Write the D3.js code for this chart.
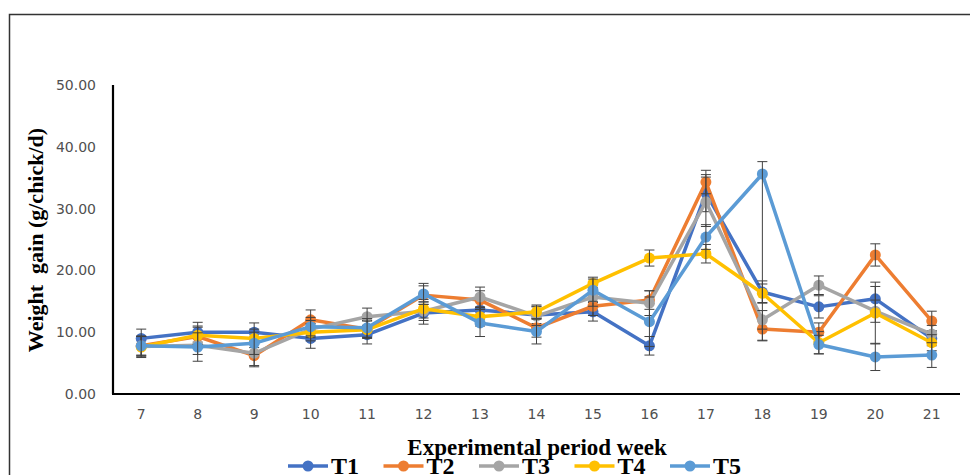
<!DOCTYPE html>
<html>
<head>
<meta charset="utf-8">
<script src="https://cdn.jsdelivr.net/npm/d3@7"></script>
<style>
  body { margin: 0; background: #fff; }
  svg { display: block; }
</style>
</head>
<body>
<svg id="chart" width="971" height="475"></svg>
<script>
// weeks on the x axis
var weeks = ["7", "8", "9", "10", "11", "12", "13", "14", "15", "16", "17", "18", "19", "20", "21"];
var yTicks = [0, 10, 20, 30, 40, 50];

// mean weight gain per treatment
var t1 = [9.0, 10.0, 10.0, 9.0, 9.6, 13.1, 13.6, 12.8, 13.3, 7.8, 32.5, 16.5, 14.1, 15.4, 9.0];
var t2 = [7.8, 9.3, 6.2, 12.0, 10.5, 16.0, 15.2, 10.7, 14.2, 15.2, 34.3, 10.5, 10.0, 22.5, 11.8];
var t3 = [7.7, 7.9, 6.6, 10.5, 12.5, 13.4, 15.7, 12.6, 15.7, 14.7, 31.1, 12.0, 17.6, 13.4, 9.7];
var t4 = [7.6, 9.5, 9.0, 10.0, 10.4, 13.8, 12.5, 13.3, 17.9, 22.0, 22.7, 16.3, 8.3, 13.1, 8.3];
var t5 = [7.8, 7.6, 8.2, 10.9, 10.7, 16.2, 11.5, 10.1, 16.8, 11.7, 25.4, 35.6, 8.0, 6.0, 6.3];

// error bars (symmetric, or [plus, minus])
var t1Err = [1.5, 1.6, 1.5, 1.6, 1.5, 1.8, 1.5, 1.4, 1.5, 1.5, 3.0, 1.8, 1.8, 2.0, 1.2];
var t2Err = [1.6, 1.5, 1.8, 1.6, 1.4, 1.5, 1.5, 1.5, 1.5, 1.5, 1.9, 1.8, 1.5, 1.8, 1.6];
var t3Err = [1.6, 1.5, 2.0, 1.4, 1.4, 1.5, 1.6, 1.5, 1.5, 2.0, 4.0, 1.5, 1.5, 1.8, 1.4];
var t4Err = [1.7, 1.5, 1.5, 1.4, 1.4, 1.5, 1.5, 1.1, 1.0, 1.3, 1.5, 1.5, 1.8, 5.0, 1.3];
var t5Err = [1.5, 2.3, 1.8, 1.5, 1.5, 1.7, 2.2, 2.0, 1.8, 4.0, 2.0, [2.0, 27.0], 1.5, 2.2, 2.0];

var seriesNames = ["T1", "T2", "T3", "T4", "T5"];
var colors = ["#4472C4", "#ED7D31", "#A5A5A5", "#FFC000", "#5B9BD5"];

var series = [
  { name: seriesNames[0], values: t1, err: t1Err, color: colors[0] },
  { name: seriesNames[1], values: t2, err: t2Err, color: colors[1] },
  { name: seriesNames[2], values: t3, err: t3Err, color: colors[2] },
  { name: seriesNames[3], values: t4, err: t4Err, color: colors[3] },
  { name: seriesNames[4], values: t5, err: t5Err, color: colors[4] }
];

var svg = d3.select("#chart");

// outer frame
svg.append("path")
  .attr("d", "M9.5,475 V14.5 H970")
  .attr("fill", "none")
  .attr("stroke", "#333")
  .attr("stroke-width", 1.5);

var plotLeft = 113, plotRight = 960, plotTop = 85, plotBottom = 394;

var x = d3.scaleBand().domain(weeks).range([plotLeft, plotRight]);
var y = d3.scaleLinear().domain([0, 50]).range([plotBottom, plotTop]);

// y tick labels
svg.append("g").selectAll("text")
  .data(yTicks)
  .enter()
  .append("text")
    .attr("x", 96)
    .attr("y", d => y(d) + 5)
    .attr("text-anchor", "end")
    .style("font-family", "DejaVu Sans")
    .style("font-size", "14px")
    .style("fill", "#505050")
    .text(d => d3.format(".2f")(d));

// x tick labels
svg.append("g").selectAll("text")
  .data(weeks)
  .enter()
  .append("text")
    .attr("x", d => x(d) + x.bandwidth() / 2)
    .attr("y", 419)
    .attr("text-anchor", "middle")
    .style("font-family", "DejaVu Sans")
    .style("font-size", "14px")
    .style("fill", "#505050")
    .text(d => d);

var line = d3.line()
  .x((d, i) => x(weeks[i]) + x.bandwidth() / 2)
  .y(d => y(d));

var g = svg.append("g");

series.forEach(function(s) {
  g.append("path")
    .datum(s.values)
    .attr("fill", "none")
    .attr("stroke", s.color)
    .attr("stroke-width", 3.5)
    .attr("stroke-linejoin", "round")
    .attr("d", line);

  g.append("g").selectAll("circle")
    .data(s.values)
    .enter()
    .append("circle")
      .attr("cx", (d, i) => x(weeks[i]) + x.bandwidth() / 2)
      .attr("cy", d => y(d))
      .attr("r", 5.5)
      .attr("fill", s.color);

  // error bars
  var eb = g.append("g").attr("stroke", "#404040").attr("stroke-width", 1);
  s.values.forEach(function(v, i) {
    var e = s.err[i];
    var up = Array.isArray(e) ? e[0] : e;
    var dn = Array.isArray(e) ? e[1] : e;
    var cx = x(weeks[i]) + x.bandwidth() / 2;
    eb.append("line").attr("x1", cx).attr("x2", cx).attr("y1", y(v + up)).attr("y2", y(v - dn));
    eb.append("line").attr("x1", cx - 5).attr("x2", cx + 5).attr("y1", y(v + up)).attr("y2", y(v + up));
    eb.append("line").attr("x1", cx - 5).attr("x2", cx + 5).attr("y1", y(v - dn)).attr("y2", y(v - dn));
  });
});

// axis lines
svg.append("line")
  .attr("x1", plotLeft).attr("x2", plotLeft)
  .attr("y1", plotTop).attr("y2", plotBottom)
  .attr("stroke", "#000").attr("stroke-width", 2.2);
svg.append("line")
  .attr("x1", plotLeft - 1).attr("x2", plotRight)
  .attr("y1", plotBottom).attr("y2", plotBottom)
  .attr("stroke", "#000").attr("stroke-width", 2.2);

// axis titles
svg.append("text")
  .attr("transform", "translate(43,240) rotate(-90)")
  .attr("text-anchor", "middle")
  .style("font-family", "Liberation Serif")
  .style("font-weight", "bold")
  .style("font-size", "22px")
  .style("fill", "#000")
  .style("white-space", "pre")
  .text("Weight  gain (g/chick/d)");

svg.append("text")
  .attr("x", 537)
  .attr("y", 455)
  .attr("text-anchor", "middle")
  .style("font-family", "Liberation Serif")
  .style("font-weight", "bold")
  .style("font-size", "23px")
  .style("fill", "#000")
  .text("Experimental period week");

// legend
var legend = svg.append("g").selectAll("g")
  .data(series)
  .enter()
  .append("g")
    .attr("transform", (d, i) => "translate(" + (288 + i * 95.5) + ",466)");

legend.append("line")
  .attr("x1", 0).attr("x2", 40)
  .attr("stroke", d => d.color)
  .attr("stroke-width", 3.5);
legend.append("circle")
  .attr("cx", 20).attr("r", 5.5)
  .attr("fill", d => d.color);
legend.append("text")
  .attr("x", 43)
  .attr("y", 8)
  .style("font-family", "Liberation Serif")
  .style("font-weight", "bold")
  .style("font-size", "24px")
  .style("fill", "#000")
  .text(d => d.name);
</script>
</body>
</html>
